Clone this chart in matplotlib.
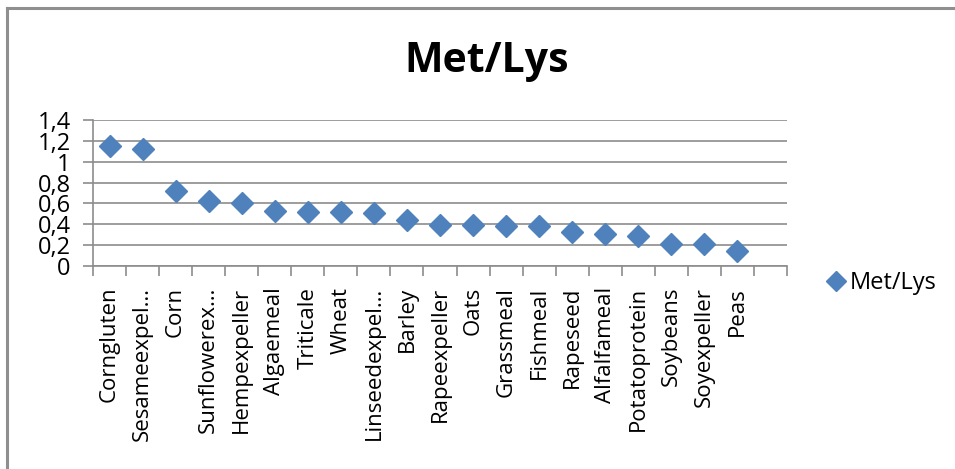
import matplotlib
matplotlib.use("Agg")
import matplotlib.pyplot as plt
from matplotlib.lines import Line2D

categories = ["Corngluten", "Sesameexpel…", "Corn", "Sunflowerex…", "Hempexpeller",
              "Algaemeal", "Triticale", "Wheat", "Linseedexpel…", "Barley",
              "Rapeexpeller", "Oats", "Grassmeal", "Fishmeal", "Rapeseed",
              "Alfalfameal", "Potatoprotein", "Soybeans", "Soyexpeller", "Peas", ""]
values = [1.15, 1.12, 0.72, 0.62, 0.60, 0.53, 0.52, 0.52, 0.51, 0.44,
          0.39, 0.39, 0.38, 0.38, 0.33, 0.31, 0.29, 0.21, 0.21, 0.14]
yticks = [0, 0.2, 0.4, 0.6, 0.8, 1.0, 1.2, 1.4]
ytick_labels = ["0", "0,2", "0,4", "0,6", "0,8", "1", "1,2", "1,4"]
series_name = "Met/Lys"

plt.rcParams['font.family'] = ['Open Sans', 'DejaVu Sans']
color = "#4F81BD"
grid_color = "#8C8C8C"
border_color = "#8F8F8F"

W, H = 955, 469
fig = plt.figure(figsize=(9.55, 4.69), dpi=100)
# partial outer border (top and left edges visible)
fig.lines.append(Line2D([6.5 / W, 1.0], [1 - 8.5 / H, 1 - 8.5 / H], transform=fig.transFigure,
                        color=border_color, linewidth=2.2))
fig.lines.append(Line2D([6.5 / W, 6.5 / W], [0.0, 1 - 8.5 / H], transform=fig.transFigure,
                        color=border_color, linewidth=2.2))

ax = fig.add_axes([93 / W, 1 - 266 / H, (787 - 93) / W, (266 - 120) / H])
n = len(categories)
xs = list(range(len(values)))
ax.plot(xs, values, linestyle="none", marker="D", markersize=11,
        color=color, markeredgecolor=color)

ax.set_xlim(-0.5, n - 0.5)
ax.set_ylim(0, 1.4)
ax.set_yticks(yticks)
ax.set_yticklabels(ytick_labels, fontsize=17)
ax.yaxis.grid(True, color=grid_color, linewidth=1.2)
ax.set_axisbelow(True)

ax.set_xticks([i - 0.5 for i in range(n + 1)], minor=False)
ax.set_xticklabels([])
ax.set_xticks(list(range(n)), minor=True)
ax.set_xticklabels(categories, minor=True, rotation=90, fontsize=16, va="top", ha="center")
ax.tick_params(axis="x", which="major", length=7, color=grid_color, width=1.2, direction="out")
ax.tick_params(axis="x", which="minor", length=0, pad=15)
ax.tick_params(axis="y", length=7, color=grid_color, width=1.2, direction="out", pad=9)

for s in ["top", "right"]:
    ax.spines[s].set_visible(False)
for s in ["left", "bottom"]:
    ax.spines[s].set_color(grid_color)
    ax.spines[s].set_linewidth(1.2)

fig.text(487 / W, 1 - 62 / H, series_name, ha="center", va="center", fontsize=29.5, fontweight="bold")

handle = Line2D([], [], linestyle="none", marker="D", markersize=10, color=color)
fig.legend([handle], [series_name], loc="center left", bbox_to_anchor=(824 / W, 1 - 283 / H),
           frameon=False, fontsize=17, handletextpad=0.1, borderaxespad=0, borderpad=0,
           handlelength=1)

fig.savefig("out.png", dpi=100)
